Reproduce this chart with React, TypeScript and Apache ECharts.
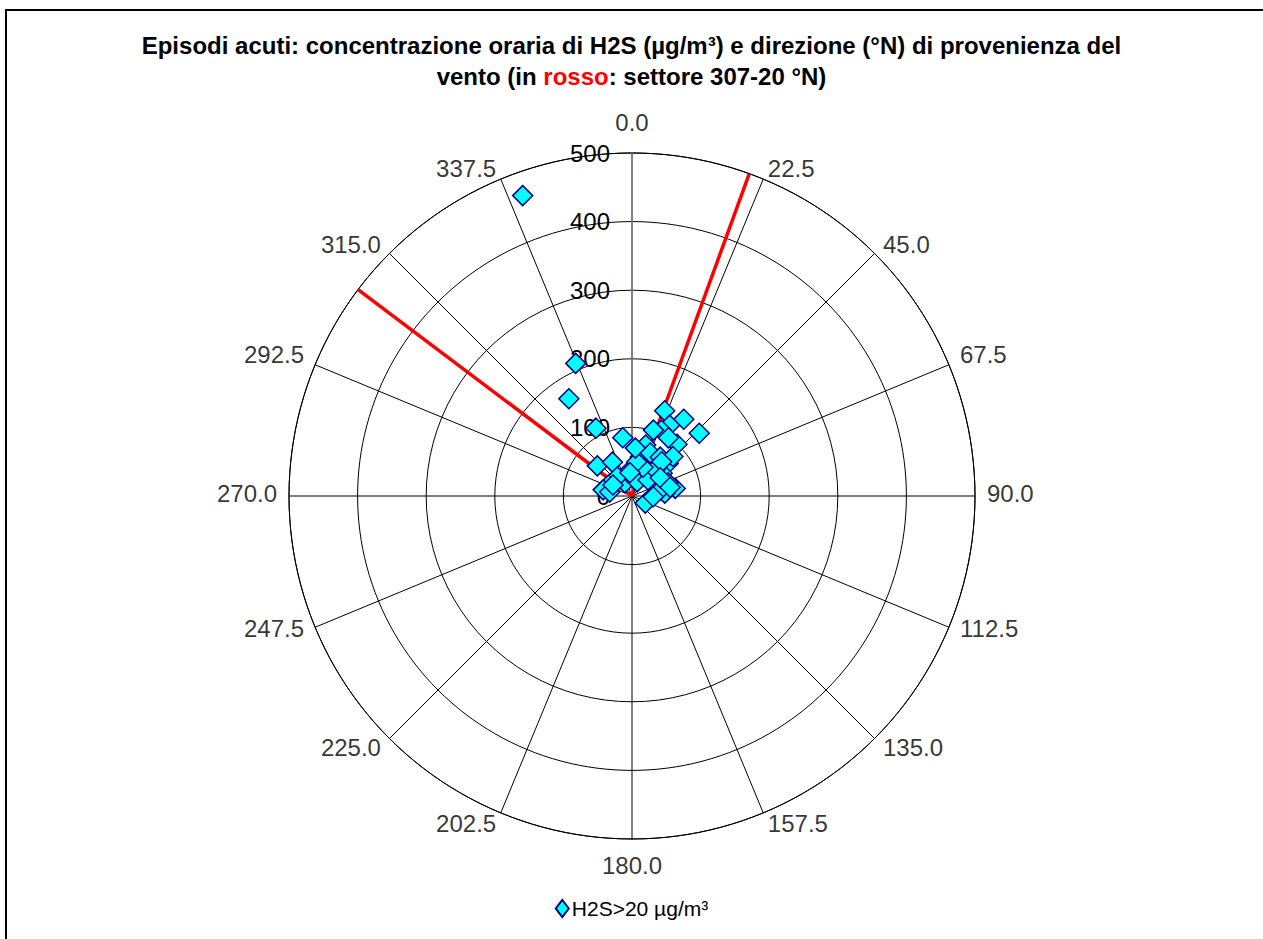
import React, { useEffect, useRef } from "react";
import * as echarts from "echarts";

// Angle axis tick labels (degrees from North, clockwise)
const angleTicks = [0, 22.5, 45, 67.5, 90, 112.5, 135, 157.5, 180, 202.5, 225, 247.5, 270, 292.5, 315, 337.5];
// Radial axis ticks (µg/m³)
const radialTicks = [0, 100, 200, 300, 400, 500];
// Wind direction (°N) of each acute episode
const windDirection = [
  340, 337, 327, 332, 351, 21, 34, 47, 28, 24,
  41, 32, 311, 330, 15, 12, 23, 36, 48, 53,
  80, 85, 93, 118, 332, 350, 322, 295, 282, 20,
  45, 41, 21, 8, 355, 280, 300, 46, 41, 70,
  78, 57, 77, 92, 4, 18,
];
// Hourly H2S concentration (µg/m³) of each acute episode
const h2sConcentration = [
  466, 210, 169, 112, 86, 133, 135, 134, 117, 105,
  100, 100, 67, 57, 77, 58, 68, 70, 71, 55,
  64, 48, 29, 22, 22, 35, 35, 38, 43, 22,
  33, 51, 45, 50, 34, 33, 32, 83, 66, 56,
  42, 49, 57, 31, 70, 101,
];
// Edges of the red sector (°N)
const redSectorEdges = [307, 20];

const seriesName = "H2S>20 µg/m³";
const titleLine1 = "Episodi acuti: concentrazione oraria di H2S (µg/m³) e direzione (°N) di provenienza del";
const titleLine2a = "vento (in ";
const titleLine2red = "rosso";
const titleLine2b = ": settore 307-20 °N)";

export default function App() {
  const ref = useRef<HTMLDivElement>(null);

  useEffect(() => {
    if (!ref.current) return;
    const chart = echarts.init(ref.current, null, { renderer: "svg" });
    const font = "'Liberation Sans', Arial, Helvetica, sans-serif";
    const rMax = radialTicks[radialTicks.length - 1];
    const labelRadius = rMax * 1.035;

    const angleLabelData = angleTicks.map((a) => {
      const rad = (a * Math.PI) / 180;
      const s = Math.sin(rad);
      const c = Math.cos(rad);
      const side = Math.abs(s) > 0.05;
      let dy = 0;
      if (!side) dy = c > 0 ? -6 : 2;
      else if (Math.abs(c) < 0.05) dy = -3;
      else if (Math.abs(c) < 0.5) dy = c > 0 ? -6 : -3;
      else dy = 0;
      return {
        value: [labelRadius, a],
        label: {
          align: s > 0.05 ? "left" : s < -0.05 ? "right" : "center",
          verticalAlign: side ? "middle" : c > 0 ? "bottom" : "top",
          offset: [0, dy],
        },
      };
    });

    chart.setOption({
      animation: false,
      backgroundColor: "#ffffff",
      textStyle: { fontFamily: font },
      title: {
        text: `{a|${titleLine1}}\n{a|${titleLine2a}}{r|${titleLine2red}}{a|${titleLine2b}}`,
        left: "center",
        top: 25,
        textStyle: {
          rich: {
            a: { fontSize: 24, fontWeight: "bold", color: "#000", lineHeight: 31, fontFamily: font },
            r: { fontSize: 24, fontWeight: "bold", color: "#ff0000", lineHeight: 31, fontFamily: font },
          },
        },
      },
      legend: {
        data: [seriesName],
        top: 893,
        left: "center",
        icon: "diamond",
        itemWidth: 13,
        itemHeight: 17,
        itemGap: 6,
        textStyle: { fontSize: 21, color: "#000", fontFamily: font, padding: [0, 0, 0, -2] },
      },
      polar: { center: [632, 496], radius: 343 },
      angleAxis: {
        type: "value",
        min: 0,
        max: 360,
        interval: 22.5,
        startAngle: 90,
        clockwise: true,
        axisLine: { show: true, lineStyle: { color: "#000", width: 1 } },
        axisTick: { show: false },
        axisLabel: { show: false },
        splitLine: { show: true, lineStyle: { color: "#000", width: 1 } },
      },
      radiusAxis: {
        type: "value",
        min: 0,
        max: rMax,
        interval: 100,
        axisLine: { show: true, lineStyle: { color: "#808080", width: 1.5 } },
        axisTick: { show: false },
        axisLabel: {
          show: true,
          margin: 22,
          fontSize: 24,
          color: "#000",
          fontFamily: font,
        },
        splitLine: { show: true, lineStyle: { color: "#000", width: 1 } },
        z: 1,
      },
      graphic: [
        {
          type: "rect",
          shape: { x: 6, y: 10, width: 1400, height: 1100 },
          style: { fill: "none", stroke: "#000", lineWidth: 2 },
          silent: true,
          z: 100,
        },
      ],
      series: [
        ...redSectorEdges.map((a) => ({
          type: "line",
          name: `settore ${a}`,
          coordinateSystem: "polar",
          data: [
            [0, a],
            [rMax, a],
          ],
          symbol: "none",
          silent: true,
          lineStyle: { color: "#ff0000", width: 3.5 },
          z: 2,
        })),
        {
          type: "scatter",
          name: seriesName,
          coordinateSystem: "polar",
          data: windDirection.map((d, i) => [h2sConcentration[i], d]),
          symbol: "diamond",
          symbolSize: 20,
          itemStyle: { color: "#00ffff", borderColor: "#000080", borderWidth: 1.5, opacity: 1 },
          z: 3,
        },
        {
          type: "scatter",
          name: "angleLabels",
          coordinateSystem: "polar",
          clip: false,
          silent: true,
          data: angleLabelData,
          symbol: "circle",
          symbolSize: 1,
          itemStyle: { color: "rgba(0,0,0,0)" },
          label: {
            show: true,
            position: "inside",
            formatter: (p: any) => Number(p.value[1]).toFixed(1),
            fontSize: 24,
            color: "#000",
            fontFamily: font,
          },
          z: 4,
        },
      ],
    });

    return () => chart.dispose();
  }, []);

  return (
    <div
      ref={ref}
      style={{ position: "fixed", left: 0, top: 0, width: 1263, height: 939, background: "#fff" }}
    />
  );
}
